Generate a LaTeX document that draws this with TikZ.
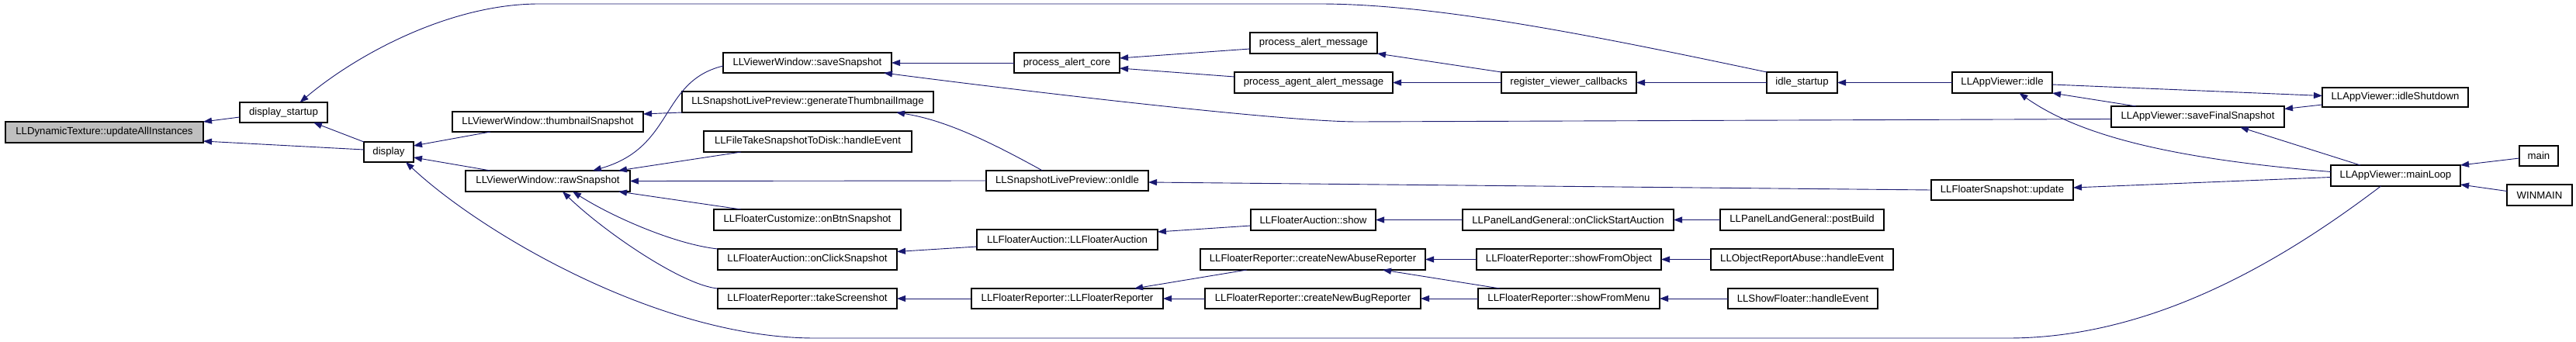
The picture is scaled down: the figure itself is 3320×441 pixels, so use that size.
\documentclass[tikz,border=0pt]{standalone}
\usepackage{fontspec}
\setmainfont{Liberation Sans}
\usetikzlibrary{arrows.meta,calc}
\definecolor{edgec}{HTML}{191970}
\newcommand{\mybox}[6]{\node[box,minimum width={(#4-#2)*1pt},minimum height={(#5-#3)*1pt}] (#1) at ({(#2+#4)/2},{(#3+#5)/2}) {#6};}
\tikzset{
  box/.style={draw=black,line width=1.1pt,fill=white,inner sep=0pt,outer sep=0pt,font=\fontsize{13.2}{15}\selectfont},
  call/.style={draw=edgec,line width=0.9pt,-{Triangle[length=11pt,width=8pt]}}
}
\begin{document}
\begin{tikzpicture}[x=1pt,y=-1pt]
\useasboundingbox[fill=white] (0,0) rectangle (3320,441);
% nodes
\mybox{dyn}{7}{157}{262}{184}{LLDynamicTexture::updateAllInstances}
\path (dyn) node[box,fill=gray!50,minimum width=255pt,minimum height=27pt] {LLDynamicTexture::updateAllInstances};
\mybox{dstart}{309}{132}{422}{158}{display\_startup}
\mybox{disp}{469}{183}{533}{209}{display}
\mybox{thumb}{583}{144}{829}{170}{LLViewerWindow::thumbnailSnapshot}
\mybox{raw}{600}{220}{812}{247}{LLViewerWindow::rawSnapshot}
\mybox{save}{932}{68}{1149}{94}{LLViewerWindow::saveSnapshot}
\mybox{genthumb}{879}{118}{1203}{145}{LLSnapshotLivePreview::generateThumbnailImage}
\mybox{filetake}{907}{169}{1175}{196}{LLFileTakeSnapshotToDisk::handleEvent}
\mybox{custom}{920}{270}{1161}{297}{LLFloaterCustomize::onBtnSnapshot}
\mybox{onclick}{925}{321}{1156}{348}{LLFloaterAuction::onClickSnapshot}
\mybox{takess}{925}{372}{1156}{398}{LLFloaterReporter::takeScreenshot}
\mybox{alertcore}{1307}{68}{1443}{94}{process\_alert\_core}
\mybox{onidle}{1271}{220}{1480}{246}{LLSnapshotLivePreview::onIdle}
\mybox{auctor}{1259}{296}{1492}{322}{LLFloaterAuction::LLFloaterAuction}
\mybox{repctor}{1252}{372}{1499}{398}{LLFloaterReporter::LLFloaterReporter}
\mybox{alertmsg}{1611}{42}{1775}{69}{process\_alert\_message}
\mybox{agentmsg}{1591}{93}{1795}{120}{process\_agent\_alert\_message}
\mybox{aushow}{1612}{270}{1773}{297}{LLFloaterAuction::show}
\mybox{abuse}{1547}{321}{1837}{348}{LLFloaterReporter::createNewAbuseReporter}
\mybox{bug}{1553}{372}{1831}{398}{LLFloaterReporter::createNewBugReporter}
\mybox{register}{1935}{93}{2109}{120}{register\_viewer\_callbacks}
\mybox{idlestart}{2277}{93}{2368}{120}{idle\_startup}
\mybox{startauc}{1885}{270}{2157}{297}{LLPanelLandGeneral::onClickStartAuction}
\mybox{fromobj}{1903}{321}{2141}{348}{LLFloaterReporter::showFromObject}
\mybox{frommenu}{1905}{372}{2139}{398}{LLFloaterReporter::showFromMenu}
\mybox{postbuild}{2217}{270}{2428}{297}{LLPanelLandGeneral::postBuild}
\mybox{reportabuse}{2205}{321}{2440}{348}{LLObjectReportAbuse::handleEvent}
\mybox{showfloater}{2227}{372}{2420}{398}{LLShowFloater::handleEvent}
\mybox{idle}{2516}{93}{2645}{120}{LLAppViewer::idle}
\mybox{savefinal}{2721}{137}{2944}{164}{LLAppViewer::saveFinalSnapshot}
\mybox{fsupdate}{2489}{232}{2672}{258}{LLFloaterSnapshot::update}
\mybox{shutdown}{2993}{113}{3181}{138}{LLAppViewer::idleShutdown}
\mybox{mainloop}{3004}{213}{3171}{240}{LLAppViewer::mainLoop}
\mybox{main}{3247}{188}{3297}{214}{main}
\mybox{winmain}{3231}{238}{3315}{265}{WINMAIN}
% edges
\draw[call] ($(dstart.west)+(0,6)$) -- (dyn.north east);
\draw[call] ($(disp.west)+(0,-3)$) -- ($(dyn.south east)+(0,-2)$);
\draw[call] (disp.north west) -- ($(dstart.south east)+(-18,0)$);
\draw[call] (idlestart.north west) .. controls (2050,45) and (1850,5) .. (1700,5) -- (695,5) .. controls (580,5) and (460,70) .. ($(dstart.north)+(21,0)$);
\draw[call] ($(thumb.south west)+(49,0)$) -- ($(disp.east)+(0,-8)$);
\draw[call] ($(raw.north west)+(32,0)$) -- ($(disp.east)+(0,7)$);
\draw[call] ($(mainloop.south)+(-19,0)$) .. controls (2950,330) and (2780,436) .. (2588,436) -- (1050,436) .. controls (850,436) and (620,300) .. ($(disp.south east)+(-10,0)$);
\draw[call] ($(save.west)+(0,4)$) .. controls (850,105) and (870,190) .. ($(raw.north)+(58,0)$);
\draw[call] (genthumb.south west) -- ($(thumb.east)+(0,-10)$);
\draw[call] ($(filetake.south west)+(48,0)$) -- ($(raw.north east)+(-15,0)$);
\draw[call] (onidle.west) -- (raw.east);
\draw[call] ($(custom.north west)+(35,0)$) -- ($(raw.south east)+(-15,0)$);
\draw[call] (onclick.north west) .. controls (870,315) and (790,280) .. ($(raw.south)+(32,0)$);
\draw[call] (takess.north west) .. controls (880,368) and (780,300) .. ($(raw.south)+(19,0)$);
\draw[call] ($(onidle.north)+(-32,0)$) .. controls (1280,185) and (1220,155) .. ($(genthumb.south east)+(-48,0)$);
\draw[call] (alertcore.west) -- (save.east);
\draw[call] ($(savefinal.west)+(0,3)$) -- (1750,157) .. controls (1650,157) and (1300,115) .. ($(save.south east)+(-10,0)$);
\draw[call] ($(alertmsg.west)+(0,7.5)$) -- ($(alertcore.east)+(0,-6)$);
\draw[call] ($(agentmsg.north west)+(0,6)$) -- ($(alertcore.east)+(0,7)$);
\draw[call] (fsupdate.west) -- ($(onidle.east)+(0,2)$);
\draw[call] ($(auctor.west)+(0,9)$) -- ($(onclick.east)+(0,-10)$);
\draw[call] (repctor.west) -- (takess.east);
\draw[call] (register.north west) -- (alertmsg.south east);
\draw[call] (register.west) -- (agentmsg.east);
\draw[call] (idlestart.west) -- (register.east);
\draw[call] (idle.west) -- (idlestart.east);
\draw[call] ($(aushow.west)+(0,7.5)$) -- ($(auctor.east)+(0,-10)$);
\draw[call] ($(abuse.south west)+(60,0)$) -- ($(repctor.north east)+(-37,0)$);
\draw[call] (bug.west) -- (repctor.east);
\draw[call] (startauc.west) -- (aushow.east);
\draw[call] (fromobj.west) -- (abuse.east);
\draw[call] ($(frommenu.north west)+(28,0)$) -- ($(abuse.south east)+(-55,0)$);
\draw[call] (frommenu.west) -- (bug.east);
\draw[call] (postbuild.west) -- (startauc.east);
\draw[call] (reportabuse.west) -- (fromobj.east);
\draw[call] (showfloater.west) -- (frommenu.east);
\draw[call] ($(idle.east)+(0,2.5)$) -- ($(shutdown.west)+(0,-2)$);
\draw[call] ($(shutdown.south west)+(0,-3)$) -- ($(savefinal.east)+(0,-10)$);
\draw[call] ($(savefinal.north west)+(32,0)$) -- (idle.south east);
\draw[call] ($(mainloop.west)+(0,-5)$) .. controls (2800,205) and (2680,175) .. ($(idle.south)+(22,0)$);
\draw[call] ($(mainloop.north west)+(38,0)$) -- ($(savefinal.south east)+(-57,0)$);
\draw[call] ($(mainloop.west)+(0,2)$) -- ($(fsupdate.east)+(0,-3)$);
\draw[call] ($(main.west)+(0,3)$) -- (mainloop.north east);
\draw[call] ($(winmain.west)+(0,-5)$) -- ($(mainloop.south east)+(0,-2)$);
\end{tikzpicture}
\end{document}
